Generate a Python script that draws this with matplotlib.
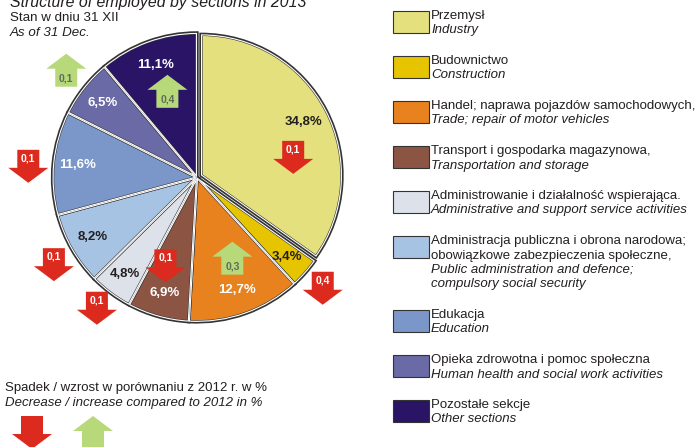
import matplotlib.pyplot as plt
from matplotlib.patches import Polygon, Rectangle, Wedge
import numpy as np

plt.rcParams['font.family'] = ['Liberation Sans', 'DejaVu Sans']

# data
sections_pl = ['Przemysł', 'Budownictwo', 'Handel; naprawa pojazdów samochodowych,',
               'Transport i gospodarka magazynowa,', 'Administrowanie i działalność wspierająca.',
               'Administracja publiczna i obrona narodowa;\nobowiązkowe zabezpieczenia społeczne,',
               'Edukacja', 'Opieka zdrowotna i pomoc społeczna', 'Pozostałe sekcje']
sections_en = ['Industry', 'Construction', 'Trade; repair of motor vehicles',
               'Transportation and storage', 'Administrative and support service activities',
               'Public administration and defence;\ncompulsory social security',
               'Education', 'Human health and social work activities', 'Other sections']
shares = [34.8, 3.4, 12.7, 6.9, 4.8, 8.2, 11.6, 6.5, 11.1]
change = [-0.1, -0.4, 0.3, -0.1, -0.1, -0.1, -0.1, 0.1, 0.4]

colors = ['#e4e07e', '#e6c400', '#e8821f', '#8c5442', '#dde1ea',
          '#a6c3e3', '#7b97c9', '#6a6aa6', '#2a1466']
label_colors = ['#231f20', '#231f20', 'white', 'white', '#231f20',
                '#231f20', 'white', 'white', 'white']
RED = '#dc2a1e'
GREEN = '#b7d97a'
TXT = '#231f20'

W, H = 699, 447
fig = plt.figure(figsize=(W / 100, H / 100), dpi=100)
ax = fig.add_axes([0, 0, 1, 1])

cx, cy, R = 197, H - 177.4, 144.5
# explode is in data units (pixels here)
explode = [4.5] + [0] * (len(shares) - 1)
wedges, _ = ax.pie(shares, colors=colors, center=(cx, cy), radius=R, startangle=90,
                   counterclock=False, explode=explode, frame=True)
wedges[0].set_radius(141)
ax.set_xlim(0, W)
ax.set_ylim(0, H)
ax.set_aspect('auto')
ax.axis('off')

# dark outline with a white gap between slices: edges clipped to each wedge
for w in wedges:
    w.set_edgecolor('#333333')
    w.set_linewidth(2.4)
    w.set_clip_path(w)
    gap = Wedge(w.center, w.r, w.theta1, w.theta2, facecolor='none',
                edgecolor='white', linewidth=1.6)
    ax.add_patch(gap)
    gap.set_clip_path(w)

# percentage labels
for w, s, lc in zip(wedges, shares, label_colors):
    a = np.deg2rad((w.theta1 + w.theta2) / 2)
    ax.text(cx + 0.83 * R * np.cos(a), cy + 0.83 * R * np.sin(a),
            f'{s:.1f}%'.replace('.', ','), ha='center', va='center',
            fontsize=9.5, fontweight='bold', color=lc)


def arrow(x, y, up, text=None):
    hw, hh, sw, head = 20, 16.5, 11, 15
    k = 2 * hh - head
    if up:
        pts = [(x - sw, y - hh), (x + sw, y - hh), (x + sw, y - hh + k),
               (x + hw, y - hh + k), (x, y + hh), (x - hw, y - hh + k), (x - sw, y - hh + k)]
        col, ty, tc = GREEN, y - 8, '#5d6d58'
    else:
        pts = [(x - sw, y + hh), (x + sw, y + hh), (x + sw, y + hh - k),
               (x + hw, y + hh - k), (x, y - hh), (x - hw, y + hh - k), (x - sw, y + hh - k)]
        col, ty, tc = RED, y + 8, 'white'
    ax.add_patch(Polygon(pts, closed=True, facecolor=col, edgecolor='none', zorder=5))
    if text:
        ax.text(x, ty, text, ha='center', va='center', fontsize=7.5,
                fontweight='bold', color=tc, zorder=6)


# arrows placed around wedge middles
arrow_r = [0.68, 1.16, 0.61, 0.65, 1.14, 1.16, 1.17, 1.17, 0.63]
arrow_da = [-15.6, 0, 4, -4, -0.7, 1.5, 2, -1, -1]
for w, c, r, da in zip(wedges, change, arrow_r, arrow_da):
    a = np.deg2rad((w.theta1 + w.theta2) / 2 + da)
    arrow(cx + r * R * np.cos(a), cy + r * R * np.sin(a), c > 0,
          f'{abs(c):.1f}'.replace('.', ','))

# titles
ax.text(10, H - 2, 'Structure of employed by sections in 2013', fontsize=11.4,
        style='italic', color=TXT, va='center')
ax.text(10, H - 18, 'Stan w dniu 31 XII', fontsize=9.6, color=TXT, va='center')
ax.text(10, H - 33, 'As of 31 Dec.', fontsize=9.6, style='italic', color=TXT, va='center')

# bottom key
ax.text(5, H - 388, 'Spadek / wzrost w porównaniu z 2012 r. w %', fontsize=9.5,
        color=TXT, va='center')
ax.text(5, H - 403, 'Decrease / increase compared to 2012 in %', fontsize=9.5,
        style='italic', color=TXT, va='center')
arrow(32, H - 432.5, False)
arrow(93, H - 432.5, True)

# legend
top = 11
for pl, en, col in zip(sections_pl, sections_en, colors):
    lines = [(t, 'normal') for t in pl.split('\n')] + [(t, 'italic') for t in en.split('\n')]
    ax.add_patch(Rectangle((393, H - top - 22), 36, 22, facecolor=col,
                           edgecolor='#333333', linewidth=0.8))
    for i, (t, st) in enumerate(lines):
        ax.text(431, H - (top + 5 + i * 14.5), t, fontsize=9.5, style=st,
                color=TXT, va='center')
    top += 45 + (len(lines) - 2) * 14.5

fig.savefig('out.png', dpi=100)
